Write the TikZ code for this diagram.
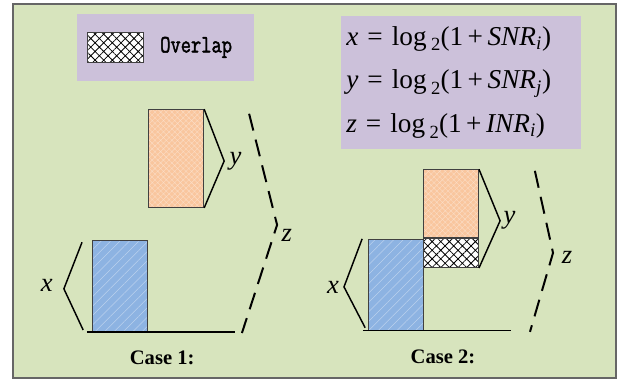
\documentclass[tikz,border=0pt]{standalone}
\usepackage{fontspec}
\setmainfont{Liberation Serif}
\newfontfamily\monofont[AutoFakeBold=2]{Latin Modern Mono}
\usetikzlibrary{patterns.meta,positioning}

\definecolor{bgc}{HTML}{D7E4BD}
\definecolor{purc}{HTML}{CCC1DA}
\definecolor{orgc}{HTML}{F9C69E}
\definecolor{bluc}{HTML}{8DB3E2}

\newcommand{\lgtwo}{log\,\raisebox{-0.45ex}{\fontsize{14}{14}\selectfont 2}}

\begin{document}
\begin{tikzpicture}[
  frame/.style={draw=black!60,line width=1.2pt,fill=bgc},
  box/.style={fill=purc,inner sep=0pt},
  blk/.style={draw=black!75,line width=0.6pt,minimum width=1.46cm,
              inner sep=0pt,anchor=south west},
  orgblk/.style={blk,preaction={fill=orgc},
                 preaction={pattern={Hatch[angle=45,distance=3pt,line width=0.3pt]},
                            pattern color=orgc!60!white}},
  blublk/.style={blk,preaction={fill=bluc},
                 preaction={pattern={Lines[angle=45,distance=5pt,line width=0.4pt]},
                            pattern color=bluc!60!white}},
  ovlblk/.style={blk,preaction={fill=white},
                 preaction={pattern={Hatch[angle=45,distance=4.6pt,line width=0.6pt]},
                            pattern color=black}},
  brace/.style={draw,line width=1.1pt},
  zline/.style={draw,line width=1.5pt,dash pattern=on 13pt off 7pt},
  base/.style={draw,line width=1.1pt},
  lbl/.style={font=\fontsize{20}{22}\selectfont\itshape,inner sep=1pt},
  case_style/.style={font=\fontsize{15.5}{18}\selectfont\bfseries},
]
\useasboundingbox (0,0) rectangle (16.64,10.05);

%% ===== Frame ================================================================
\draw[frame] (0.34,0.05) rectangle (16.30,9.95);

%% ===== Legend ===============================================================
\node[box,minimum width=4.66cm,minimum height=1.75cm,anchor=south west] (legend) at (2.04,7.91) {};
\node[ovlblk,minimum width=1.48cm,minimum height=0.79cm] (swatch) at (2.30,8.39) {};
\node[right=0.43cm of swatch,inner sep=0pt,font=\monofont\fontsize{15}{17}\selectfont\bfseries,
      yscale=1.25,transform shape] (ovltxt) {Overlap};

%% ===== Rate definitions =====================================================
\node[box,text width=6.08cm,inner xsep=0.13cm,minimum height=3.52cm,align=left,
      font=\fontsize{20.5}{33}\selectfont] (eqs) at (12.20,7.87) {
  \textit{x} = \lgtwo(1\,+\,\textit{SNR}\textsubscript{\textit{i}})\\
  \textit{y} = \lgtwo(1\,+\,\textit{SNR}\textsubscript{\textit{j}})\\
  \textit{z} = \lgtwo(1\,+\,\textit{INR}\textsubscript{\textit{i}})
};

%% ===== Case 1 ===============================================================
\node[blublk,minimum height=2.41cm] (bluA) at (2.43,1.27) {};
\node[orgblk,minimum height=2.59cm] (orgA) at (3.92,4.55) {};
\coordinate (xbA) at (1.69,2.41);
\coordinate (ybA) at (5.93,5.79);
\coordinate (baseA) at (6.22,1.27);
\coordinate (ztA) at (6.59,7.04);
\coordinate (zmA) at (7.33,4.10);
\coordinate (zbA) at (6.40,1.24);

\draw[base] ([xshift=-0.13cm]bluA.south west) -- (baseA);
\draw[brace] ([xshift=-0.26cm,yshift=-0.06cm]bluA.north west) -- (xbA)
             -- ([xshift=-0.23cm,yshift=0.05cm]bluA.south west);
\draw[brace] (orgA.north east) -- (ybA) -- (orgA.south east);
\draw[zline] (ztA) -- (zmA) -- (zbA);

\node[lbl] (xlA) at (1.24,2.51) {x};
\node[lbl,right=0.1cm of ybA] (ylA) {y};
\node[lbl] (zlA) at (7.59,3.81) {z};
\node[case_style] (caseA) at (4.29,0.58) {Case 1:};

%% ===== Case 2 ===============================================================
\node[blublk,minimum height=2.41cm] (bluB) at (9.73,1.30) {};
\node[ovlblk,minimum height=0.77cm] (ovlB) at (11.19,2.96) {};
\node[orgblk,minimum height=1.80cm,above=0pt of ovlB] (orgB) {};
\coordinate (xbB) at (9.10,2.46);
\coordinate (ybB) at (13.23,4.21);
\coordinate (baseB) at (13.52,1.30);
\coordinate (ztB) at (14.15,5.53);
\coordinate (zmB) at (14.63,3.36);
\coordinate (zbB) at (14.02,1.27);

\draw[base] ([xshift=-0.13cm]bluB.south west) -- (baseB);
\draw[brace] ([xshift=-0.15cm]bluB.north west) -- (xbB)
             -- ([xshift=-0.07cm,yshift=0.08cm]bluB.south west);
\draw[brace] (orgB.north east) -- (ybB) -- (ovlB.south east);
\draw[zline] (ztB) -- (zmB) -- (zbB);

\node[lbl] (xlB) at (8.81,2.46) {x};
\node[lbl,right=0.05cm of ybB] (ylB) {y};
\node[lbl] (zlB) at (15.00,3.23) {z};
\node[case_style] (caseB) at (11.72,0.61) {Case 2:};

\end{tikzpicture}
\end{document}
